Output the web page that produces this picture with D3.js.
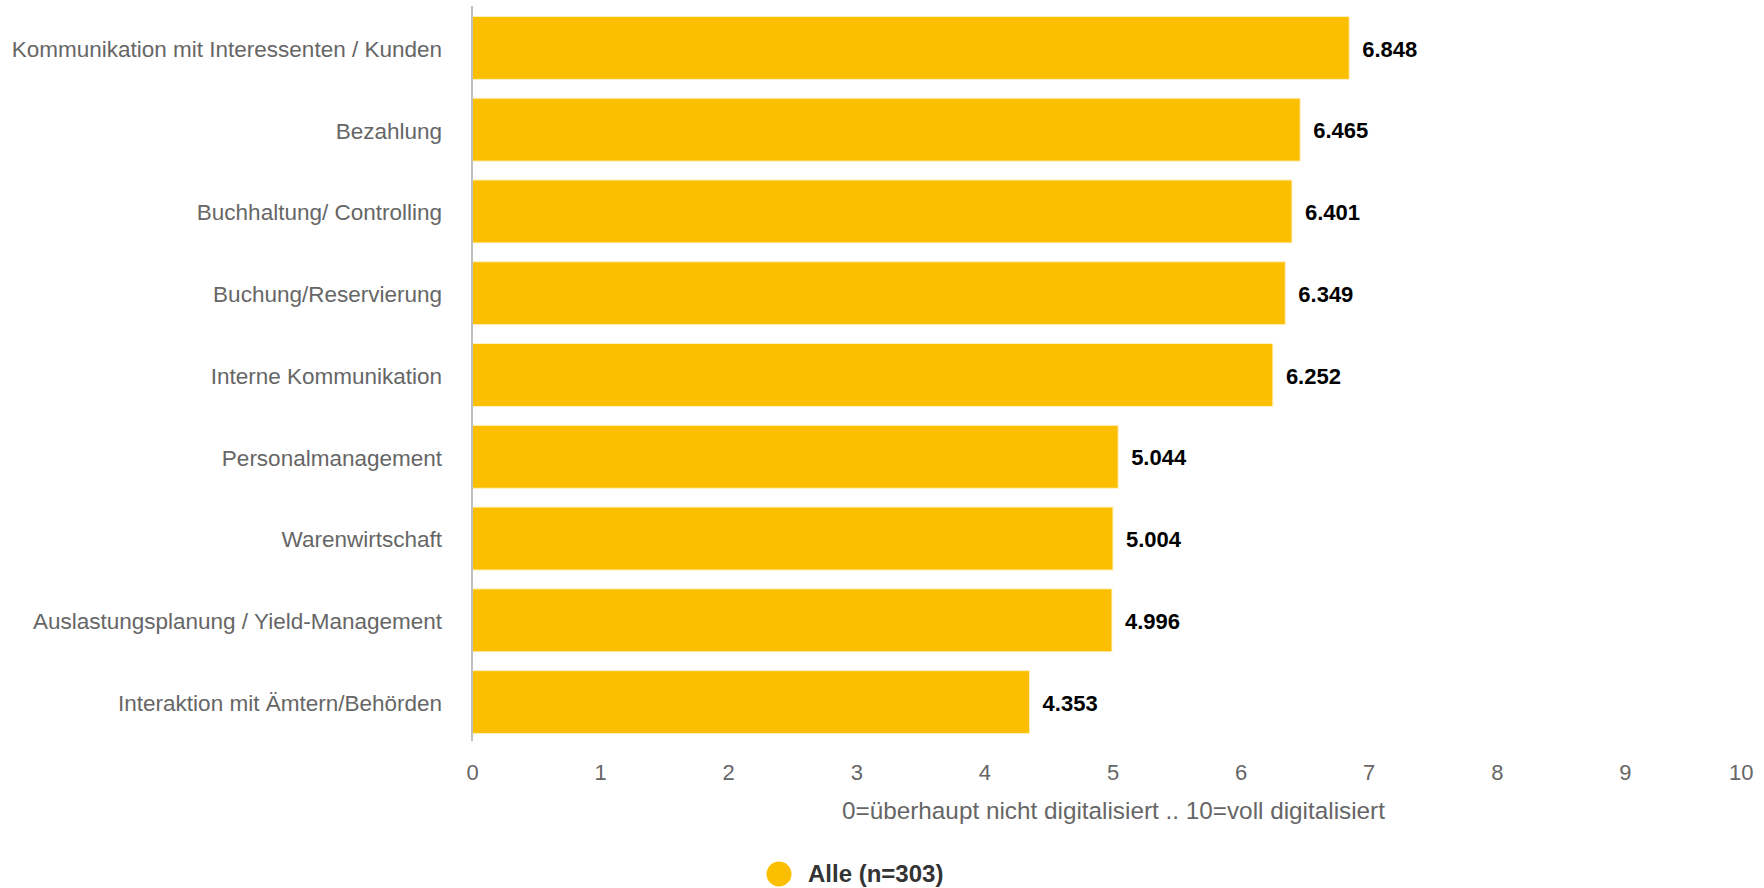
<!DOCTYPE html>
<html>
<head>
<meta charset="utf-8">
<script src="https://cdn.jsdelivr.net/npm/d3@7"></script>
<style>
  html, body { margin: 0; padding: 0; background: #fff; }
  svg { display: block; font-family: "Liberation Sans", Arial, sans-serif; }
</style>
</head>
<body>
<svg id="chart" width="1764" height="888"></svg>
<script>
const categories = [
  "Kommunikation mit Interessenten / Kunden",
  "Bezahlung",
  "Buchhaltung/ Controlling",
  "Buchung/Reservierung",
  "Interne Kommunikation",
  "Personalmanagement",
  "Warenwirtschaft",
  "Auslastungsplanung / Yield-Management",
  "Interaktion mit Ämtern/Behörden"
];
const values = [6.848, 6.465, 6.401, 6.349, 6.252, 5.044, 5.004, 4.996, 4.353];
const xTicks = [0, 1, 2, 3, 4, 5, 6, 7, 8, 9, 10];
const seriesName = "Alle (n=303)";
const axisTitle = "0=überhaupt nicht digitalisiert .. 10=voll digitalisiert";

const svg = d3.select("#chart");
const W = 1764, H = 888;
const plot = { left: 472, right: 1753, top: 7, bottom: 743 };
const barColor = "#fbbf00";

const x = d3.scaleLinear().domain([0, 10]).range([plot.left, plot.right]);
const y = d3.scaleBand().domain(categories).range([plot.top, plot.bottom]).paddingInner(0.23).paddingOuter(0.115);

// bars
svg.append("g").selectAll("rect").data(values).join("rect")
  .attr("x", x(0))
  .attr("y", (d, i) => y(categories[i]))
  .attr("width", d => x(d) - x(0))
  .attr("height", y.bandwidth())
  .attr("fill", barColor)
  .attr("stroke", "#fff2c8")
  .attr("stroke-width", 1);

// category axis line
svg.append("line")
  .attr("x1", x(0)).attr("x2", x(0))
  .attr("y1", plot.top - 1).attr("y2", plot.bottom - 2)
  .attr("stroke", "#c0c0c0").attr("stroke-width", 2);

// category labels
svg.append("g").selectAll("text").data(categories).join("text")
  .attr("x", x(0) - 30)
  .attr("y", d => y(d) + y.bandwidth() / 2 + 1)
  .attr("dy", "0.35em")
  .attr("text-anchor", "end")
  .attr("font-size", 22.5)
  .attr("fill", "#666666")
  .text(d => d);

// value labels
svg.append("g").selectAll("text").data(values).join("text")
  .attr("x", d => x(d) + 13)
  .attr("y", (d, i) => y(categories[i]) + y.bandwidth() / 2 + 1)
  .attr("dy", "0.35em")
  .attr("font-size", 22)
  .attr("font-weight", "bold")
  .attr("fill", "#000")
  .text(d => d3.format(".3f")(d));

// x tick labels
const xAxis = d3.axisBottom(x).tickValues(xTicks).tickSize(0).tickPadding(0).tickFormat(d3.format("d"));
const gx = svg.append("g").attr("transform", `translate(0, 765)`).call(xAxis);
gx.select(".domain").remove();
gx.selectAll("text")
  .attr("font-size", 22)
  .attr("font-family", "\"Liberation Sans\", Arial, sans-serif")
  .attr("fill", "#666666")
  .attr("dy", "0.35em")
  .attr("y", 7)
  .each(function(d) { if (d === 10) d3.select(this).attr("text-anchor", "end").attr("x", W - 11 - x(10)); });

// axis title
svg.append("text")
  .attr("x", (plot.left + plot.right) / 2 + 1)
  .attr("y", 810)
  .attr("dy", "0.35em")
  .attr("text-anchor", "middle")
  .attr("font-size", 24.3)
  .attr("fill", "#666666")
  .text(axisTitle);

// legend
const lg = svg.append("g");
lg.append("circle").attr("cx", 779).attr("cy", 874).attr("r", 12.5).attr("fill", barColor);
lg.append("text")
  .attr("x", 808).attr("y", 874).attr("dy", "0.35em")
  .attr("font-size", 24).attr("font-weight", "bold").attr("fill", "#333333")
  .text(seriesName);
</script>
</body>
</html>
